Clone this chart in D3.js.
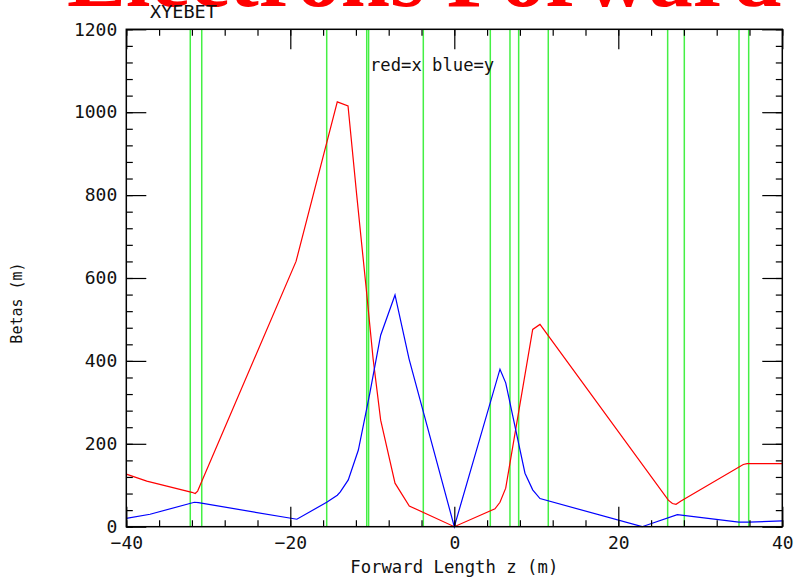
<!DOCTYPE html>
<html>
<head>
<meta charset="utf-8">
<script src="https://cdn.jsdelivr.net/npm/d3@7"></script>
<style>
  body { margin: 0; background: #fff; }
  svg { display: block; }
</style>
</head>
<body>
<div id="chart-area"></div>
<script>
// beta x (red)
var redZ    = [-40, -37.5, -32.0, -31.6, -31.3, -31.0, -19.3, -14.27, -12.96, -11.9, -10.77, -9.9, -8.98, -7.23, -5.49, 0, 4.96, 5.57, 6.27, 9.56, 10.45, 26.1, 26.6, 27.04, 27.65, 35.24, 35.7, 40]
var redBeta = [127, 110, 83, 80, 86, 100, 640, 1025, 1015, 800, 580, 405, 257, 105, 50, 0, 43, 59, 93, 476, 488, 64, 56, 54, 62, 150, 152, 152]

// beta y (blue)
var blueZ    = [-40, -37.1, -31.7, -31.2, -19.2, -15.56, -14.27, -13.9, -12.93, -11.7, -10.3, -8.98, -7.23, -5.52, 0, 5.57, 6.27, 8.62, 9.56, 10.45, 22.9, 27.2, 34.7, 35.9, 40]
var blueBeta = [20, 30, 59, 58, 18, 59, 76, 84, 113, 185, 322, 462, 559, 405, 0, 380, 347, 129, 89, 68, 0, 29, 11, 11, 14]

// element edges (green)
var elementZ = [-32.2, -30.8, -15.56, -10.68, -10.45, -3.78, 4.39, 6.79, 7.85, 11.46, 26.02, 28.05, 34.72, 35.9]

var xMajor = [-40, -20, 0, 20, 40]
var yMajor = [0, 200, 400, 600, 800, 1000, 1200]

var W = 795, H = 581
var plotLeft = 126.3, plotRight = 782.3, plotTop = 29.3, plotBottom = 526.7
var monoFont = "'DejaVu Sans Mono', monospace"

var svg = d3.select('#chart-area')
  .append('svg')
    .attr('width', W)
    .attr('height', H)

var x = d3.scaleLinear().domain([-40, 40]).range([plotLeft, plotRight])
var y = d3.scaleLinear().domain([0, 1200]).range([plotBottom, plotTop])

// title, cut off at the top edge
svg.append('text')
  .attr('x', 67)
  .attr('y', 6)
  .attr('font-family', "'Liberation Serif', serif")
  .attr('font-weight', 'bold')
  .attr('font-size', '88.6px')
  .attr('fill', '#ff0000')
  .text('Electrons Forward')

svg.append('text')
  .attr('x', 150)
  .attr('y', 18.3)
  .attr('font-family', monoFont)
  .attr('font-size', '18.5px')
  .attr('fill', '#111')
  .text('XYEBET')

// green element lines
svg.append('g')
  .selectAll('line')
  .data(elementZ)
  .enter()
  .append('line')
    .attr('x1', d => x(d))
    .attr('x2', d => x(d))
    .attr('y1', plotTop)
    .attr('y2', plotBottom)
    .attr('stroke', '#44f044')
    .attr('stroke-width', 1.5)

var line = d3.line()
  .x(d => x(d[0]))
  .y(d => y(d[1]))

svg.append('path')
  .datum(d3.zip(redZ, redBeta))
  .attr('d', line)
  .attr('fill', 'none')
  .attr('stroke', '#ff0000')
  .attr('stroke-width', 1.2)

svg.append('path')
  .datum(d3.zip(blueZ, blueBeta))
  .attr('d', line)
  .attr('fill', 'none')
  .attr('stroke', '#0000ff')
  .attr('stroke-width', 1.2)

// axes, ticks pointing inward on all four sides
function styleAxis(g) {
  g.select('.domain').remove()
  g.selectAll('line').attr('stroke', '#000').attr('stroke-width', 1.2)
  g.selectAll('text')
    .attr('font-family', monoFont)
    .attr('font-size', '18px')
    .attr('fill', '#111')
}

svg.append('g')
  .attr('transform', 'translate(0,' + plotBottom + ')')
  .call(d3.axisBottom(x).tickValues(xMajor).tickSize(-20).tickPadding(10).tickFormat(d3.format('d')))
  .call(styleAxis)
svg.append('g')
  .attr('transform', 'translate(0,' + plotBottom + ')')
  .call(d3.axisBottom(x).tickValues(d3.range(-40, 41, 4)).tickSize(-6.5).tickFormat(''))
  .call(styleAxis)
svg.append('g')
  .attr('transform', 'translate(0,' + plotTop + ')')
  .call(d3.axisTop(x).tickValues(xMajor).tickSize(-20).tickFormat(''))
  .call(styleAxis)
svg.append('g')
  .attr('transform', 'translate(0,' + plotTop + ')')
  .call(d3.axisTop(x).tickValues(d3.range(-40, 41, 4)).tickSize(-6.5).tickFormat(''))
  .call(styleAxis)

svg.append('g')
  .attr('transform', 'translate(' + plotLeft + ',0)')
  .call(d3.axisLeft(y).tickValues(yMajor).tickSize(-20).tickPadding(9).tickFormat(d3.format('d')))
  .call(styleAxis)
svg.append('g')
  .attr('transform', 'translate(' + plotLeft + ',0)')
  .call(d3.axisLeft(y).tickValues(d3.range(0, 1201, 40)).tickSize(-6.5).tickFormat(''))
  .call(styleAxis)
svg.append('g')
  .attr('transform', 'translate(' + plotRight + ',0)')
  .call(d3.axisRight(y).tickValues(yMajor).tickSize(-20).tickFormat(''))
  .call(styleAxis)
svg.append('g')
  .attr('transform', 'translate(' + plotRight + ',0)')
  .call(d3.axisRight(y).tickValues(d3.range(0, 1201, 40)).tickSize(-6.5).tickFormat(''))
  .call(styleAxis)

svg.append('rect')
  .attr('x', plotLeft)
  .attr('y', plotTop)
  .attr('width', plotRight - plotLeft)
  .attr('height', plotBottom - plotTop)
  .attr('fill', 'none')
  .attr('stroke', '#000')
  .attr('stroke-width', 1.5)

// labels
svg.append('text')
  .attr('x', (plotLeft + plotRight) / 2)
  .attr('y', 573)
  .attr('text-anchor', 'middle')
  .attr('font-family', monoFont)
  .attr('font-size', '17.3px')
  .attr('fill', '#111')
  .text('Forward Length z (m)')

svg.append('text')
  .attr('x', -303)
  .attr('y', 22)
  .attr('text-anchor', 'middle')
  .attr('transform', 'rotate(-90)')
  .attr('font-family', monoFont)
  .attr('font-size', '15px')
  .attr('fill', '#111')
  .text('Betas (m)')

svg.append('text')
  .attr('x', 370)
  .attr('y', 70.7)
  .attr('font-family', monoFont)
  .attr('font-size', '17.2px')
  .attr('fill', '#111')
  .text('red=x blue=y')
</script>
</body>
</html>
